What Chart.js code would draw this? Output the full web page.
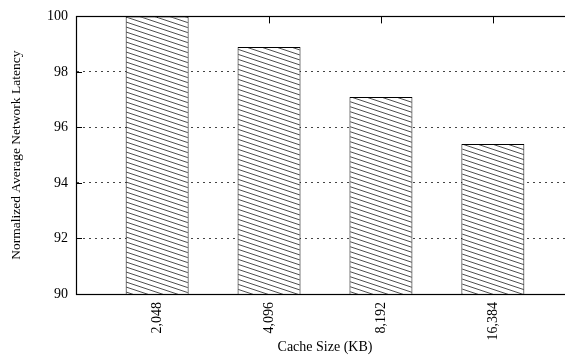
<!DOCTYPE html>
<html>
<head>
<meta charset="utf-8">
<script src="https://cdn.jsdelivr.net/npm/chart.js@4/dist/chart.umd.min.js"></script>
<style>
  html, body { margin: 0; padding: 0; background: #fff; overflow: hidden; }
  #wrap { width: 600px; height: 356px; }
</style>
</head>
<body>
<div id="wrap"><canvas id="c" width="600" height="356"></canvas></div>
<script>
// ---- data ----
const categories = ['2,048', '4,096', '8,192', '16,384'];
const latency = [100, 98.9, 97.1, 95.4];
const yTicks = [90, 92, 94, 96, 98, 100];
const xTitle = 'Cache Size (KB)';
const yTitle = 'Normalized Average Network Latency';

// ---- hatch pattern ----
function makeHatch() {
  const W = 15, H = 5;
  const t = document.createElement('canvas');
  t.width = W; t.height = H;
  const g = t.getContext('2d');
  g.fillStyle = '#fff';
  g.fillRect(0, 0, W, H);
  g.strokeStyle = '#3a3a3a';
  g.lineWidth = 0.9;
  for (let k = -3; k <= 3; k++) {
    g.beginPath();
    g.moveTo(-W, -H + k * H);
    g.lineTo(2 * W, 2 * H + k * H);
    g.stroke();
  }
  return document.createElement('canvas').getContext('2d').createPattern(t, 'repeat');
}

const FONT = "'Liberation Serif', 'DejaVu Serif', serif";

const frame = {
  id: 'frame',
  beforeDatasetsDraw(chart) {
    const { ctx, chartArea: a, scales } = chart;
    ctx.save();
    ctx.strokeStyle = '#000';
    ctx.lineWidth = 1;
    yTicks.forEach(v => {
      const y = Math.round(scales.y.getPixelForValue(v)) + 0.5;
      ctx.beginPath();
      ctx.moveTo(a.left, y); ctx.lineTo(a.left + 6, y);
      ctx.moveTo(a.right, y); ctx.lineTo(a.right - 6, y);
      ctx.stroke();
    });
    categories.forEach((_, i) => {
      const x = Math.round(scales.x.getPixelForValue(i)) + 0.5;
      ctx.beginPath();
      ctx.moveTo(x, a.top); ctx.lineTo(x, a.top + 7);
      ctx.moveTo(x, a.bottom); ctx.lineTo(x, a.bottom - 7);
      ctx.stroke();
    });
    ctx.restore();
  },
  afterDatasetsDraw(chart) {
    const { ctx, chartArea: a } = chart;
    ctx.save();
    ctx.strokeStyle = '#000';
    ctx.lineWidth = 1.2;
    ctx.strokeRect(Math.round(a.left) + 0.5, Math.round(a.top) + 0.5,
                   Math.round(a.right - a.left), Math.round(a.bottom - a.top));
    ctx.restore();
  }
};

new Chart(document.getElementById('c'), {
  type: 'bar',
  data: {
    datasets: [{
      data: latency.map((v, i) => ({ x: i, y: v })),
      backgroundColor: makeHatch(),
      borderColor: '#000',
      borderWidth: 1,
      borderSkipped: false,
      categoryPercentage: 1,
      barPercentage: 0.5625
    }]
  },
  options: {
    responsive: false,
    animation: false,
    events: [],
    layout: { padding: { top: 16, right: 26, left: 0, bottom: 0 } },
    plugins: { legend: { display: false }, tooltip: { enabled: false } },
    scales: {
      x: {
        type: 'linear',
        offset: false,
        min: -0.725,
        max: 3.725,
        afterBuildTicks: s => { s.ticks = categories.map((_, i) => ({ value: i })); },
        afterFit: s => { s.height = 62; },
        grid: { display: false, drawTicks: false },
        border: { display: true, color: '#000', width: 1 },
        ticks: {
          autoSkip: false,
          minRotation: 90,
          maxRotation: 90,
          padding: 8,
          color: '#000',
          font: { family: FONT, size: 14 },
          callback: v => categories[v]
        },
        title: {
          display: true,
          text: xTitle,
          color: '#000',
          font: { family: FONT, size: 14 },
          padding: { top: 0, bottom: 0 }
        }
      },
      y: {
        min: 90,
        max: 100,
        afterBuildTicks: s => { s.ticks = yTicks.map(v => ({ value: v })); },
        afterFit: s => { s.width = 76; },
        grid: { display: true, drawTicks: false, color: '#444', lineWidth: 1 },
        border: { display: true, color: '#000', width: 1, dash: [2, 4] },
        ticks: {
          padding: 8,
          color: '#000',
          font: { family: FONT, size: 14 }
        },
        title: {
          display: true,
          text: yTitle,
          color: '#000',
          font: { family: FONT, size: 13.5 },
          padding: { top: 8, bottom: 0 }
        }
      }
    }
  },
  plugins: [frame]
});
</script>
</body>
</html>
